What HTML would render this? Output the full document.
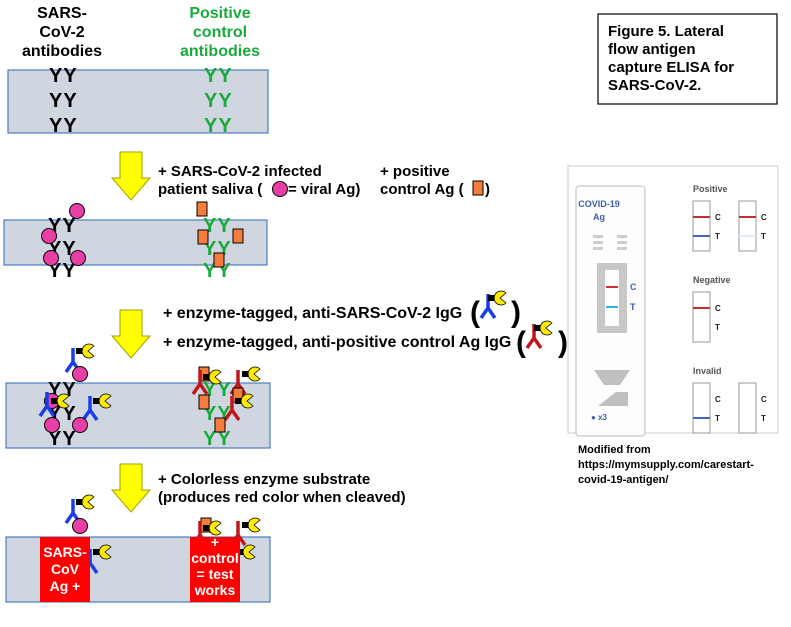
<!DOCTYPE html>
<html><head><meta charset="utf-8"><style>
body{margin:0;background:#fff;width:791px;height:627px;overflow:hidden}
svg{display:block}
text{font-family:"Liberation Sans",Arial,sans-serif;font-weight:bold}
.yy{letter-spacing:1px}
</style></head><body>
<svg width="791" height="627" viewBox="0 0 791 627" xmlns="http://www.w3.org/2000/svg">
<defs>
<g id="pk"><circle r="7.5" fill="#e83fa7" stroke="#000" stroke-width="1"/></g>
<g id="or"><rect x="-5" y="-7" width="10" height="14" fill="#f47c3c" stroke="#000" stroke-width="1"/></g>
<g id="enz"><rect x="-9" y="-3" width="10" height="6" fill="#000"/><path d="M12,-5 A7,7 0 1,0 12,5 L6,0 Z" transform="translate(-3,0)" fill="#ffeb00" stroke="#000" stroke-width="0.8"/></g>
<g id="bab"><path d="M0,-14 V0 M0,0 L-7,10 M0,0 L7,10" stroke="#1a3de8" stroke-width="3.5" fill="none"/></g>
<g id="rab"><path d="M0,-14 V0 M0,0 L-7,10 M0,0 L7,10" stroke="#c0171c" stroke-width="3.5" fill="none"/></g>
<g id="arr"><path d="M-11,0 H11 V26 H19 L0,48 L-19,26 H-11 Z" fill="#ffff00" stroke="#a0a000" stroke-width="1"/></g>
</defs>

<text x="62" y="18" font-size="16" text-anchor="middle">SARS-</text>
<text x="62" y="37" font-size="16" text-anchor="middle">CoV-2</text>
<text x="62" y="56" font-size="16" text-anchor="middle">antibodies</text>
<text x="220" y="18" font-size="16" text-anchor="middle" fill="#1aaa3c">Positive</text>
<text x="220" y="37" font-size="16" text-anchor="middle" fill="#1aaa3c">control</text>
<text x="220" y="56" font-size="16" text-anchor="middle" fill="#1aaa3c">antibodies</text>

<rect x="598" y="14" width="179" height="90" fill="#fff" stroke="#000" stroke-width="1.2"/>
<text x="608" y="36" font-size="15">Figure 5. Lateral</text>
<text x="608" y="54" font-size="15">flow antigen</text>
<text x="608" y="72" font-size="15">capture ELISA for</text>
<text x="608" y="90" font-size="15">SARS-CoV-2.</text>

<rect x="8" y="70" width="260" height="63" fill="#cfd6e0" stroke="#4a7bc0" stroke-width="1.2"/>
<g font-size="20" fill="#000" class="yy"><text x="49" y="82">YY</text><text x="49" y="107">YY</text><text x="49" y="132">YY</text></g>
<g font-size="20" fill="#1aaa3c" class="yy"><text x="204" y="82">YY</text><text x="204" y="107">YY</text><text x="204" y="132">YY</text></g>

<use href="#arr" x="131" y="152"/>
<text x="158" y="176" font-size="15">+ SARS-CoV-2 infected</text>
<text x="158" y="194" font-size="15">patient saliva (</text>
<use href="#pk" x="280" y="189"/>
<text x="288" y="194" font-size="15">= viral Ag)</text>
<text x="380" y="176" font-size="15">+ positive</text>
<text x="380" y="194" font-size="15">control Ag (</text>
<use href="#or" x="478" y="188"/>
<text x="485" y="194" font-size="15">)</text>

<rect x="4" y="220" width="263" height="45" fill="#cfd6e0" stroke="#4a7bc0" stroke-width="1.2"/>
<g font-size="20" fill="#000" class="yy"><text x="48" y="232">YY</text><text x="48" y="255">YY</text><text x="48" y="277">YY</text></g>
<g font-size="20" fill="#1aaa3c" class="yy"><text x="203" y="232">YY</text><text x="203" y="255">YY</text><text x="203" y="277">YY</text></g>
<use href="#pk" x="77" y="211"/><use href="#pk" x="49" y="236"/><use href="#pk" x="51" y="258"/><use href="#pk" x="78" y="258"/>
<use href="#or" x="202" y="209"/><use href="#or" x="203" y="237"/><use href="#or" x="238" y="236"/><use href="#or" x="219" y="260"/>

<use href="#arr" x="131" y="310"/>
<text x="163" y="318" font-size="16">+ enzyme-tagged, anti-SARS-CoV-2 IgG</text>
<text x="470" y="322" font-size="30" font-weight="normal">(</text>
<use href="#bab" x="488" y="308"/><use href="#enz" x="497" y="298"/>
<text x="511" y="322" font-size="30" font-weight="normal">)</text>
<text x="163" y="347" font-size="16">+ enzyme-tagged, anti-positive control Ag IgG</text>
<text x="516" y="352" font-size="30" font-weight="normal">(</text>
<use href="#rab" x="534" y="338"/><use href="#enz" x="543" y="328"/>
<text x="558" y="352" font-size="30" font-weight="normal">)</text>

<rect x="6" y="383" width="264" height="65" fill="#cfd6e0" stroke="#4a7bc0" stroke-width="1.2"/>
<g font-size="20" fill="#000" class="yy"><text x="48" y="396">YY</text><text x="48" y="420">YY</text><text x="48" y="445">YY</text></g>
<g font-size="20" fill="#1aaa3c" class="yy"><text x="203" y="396">YY</text><text x="203" y="420">YY</text><text x="203" y="445">YY</text></g>
<use href="#bab" x="73" y="362"/><use href="#enz" x="85" y="351"/>
<use href="#pk" x="80" y="374"/>
<use href="#pk" x="52" y="401"/><use href="#bab" x="47" y="406"/><use href="#enz" x="60" y="401"/>
<use href="#bab" x="90" y="410"/><use href="#enz" x="102" y="401"/>
<use href="#pk" x="52" y="425"/><use href="#pk" x="80" y="425"/>
<use href="#or" x="204" y="374"/><use href="#rab" x="200" y="384"/><use href="#enz" x="212" y="377"/>
<use href="#rab" x="238" y="384"/><use href="#enz" x="251" y="374"/>
<use href="#or" x="238" y="395"/><use href="#rab" x="232" y="410"/><use href="#enz" x="244" y="401"/>
<use href="#or" x="204" y="402"/>
<use href="#or" x="220" y="425"/>

<use href="#arr" x="131" y="464"/>
<text x="158" y="484" font-size="15">+ Colorless enzyme substrate</text>
<text x="158" y="502" font-size="15">(produces red color when cleaved)</text>

<rect x="6" y="537" width="264" height="65" fill="#cfd6e0" stroke="#4a7bc0" stroke-width="1.2"/>
<use href="#bab" x="73" y="513"/><use href="#enz" x="85" y="502"/>
<use href="#pk" x="80" y="526"/>
<use href="#bab" x="90" y="563"/><use href="#enz" x="102" y="552"/>
<use href="#or" x="206" y="525"/><use href="#rab" x="200" y="535"/><use href="#enz" x="212" y="528"/>
<use href="#rab" x="238" y="535"/><use href="#enz" x="251" y="525"/><use href="#enz" x="246" y="552"/>
<rect x="40" y="537" width="50" height="65" fill="#ff0000"/>
<rect x="190" y="537" width="50" height="65" fill="#ff0000"/>
<g fill="#fff" font-size="14" text-anchor="middle">
<text x="65" y="557">SARS-</text><text x="65" y="574">CoV</text><text x="65" y="591">Ag +</text>
<text x="215" y="547">+</text><text x="215" y="563">control</text><text x="215" y="579">= test</text><text x="215" y="595">works</text>
</g>

<rect x="568" y="166" width="210" height="267" fill="#fff" stroke="#ccc" stroke-width="1"/>
<rect x="576" y="186" width="69" height="250" rx="3" fill="#fdfdfd" stroke="#bbb" stroke-width="1"/>
<text x="599" y="207" font-size="9" fill="#3a5fb0" text-anchor="middle">COVID-19</text>
<text x="599" y="220" font-size="9" fill="#3a5fb0" text-anchor="middle">Ag</text>
<g fill="#ccc"><rect x="593" y="235" width="10" height="3"/><rect x="617" y="235" width="10" height="3"/><rect x="593" y="241" width="10" height="3"/><rect x="617" y="241" width="10" height="3"/><rect x="593" y="247" width="10" height="3"/><rect x="617" y="247" width="10" height="3"/></g>
<rect x="597" y="263" width="30" height="70" fill="#c8c8c8"/>
<rect x="605" y="270" width="14" height="56" fill="#fff"/>
<rect x="606" y="286" width="12" height="2" fill="#d03030"/>
<rect x="606" y="306" width="12" height="2" fill="#30b0e0"/>
<text x="630" y="290" font-size="9" fill="#3a5fb0">C</text>
<text x="630" y="310" font-size="9" fill="#3a5fb0">T</text>
<path d="M594,370 H630 L620,385 H604 Z" fill="#c0c0c0"/>
<path d="M598,406 L616,392 H628 V406 Z" fill="#c0c0c0"/>
<text x="599" y="420" font-size="8" fill="#3a5fb0" font-weight="normal" text-anchor="middle">● x3</text>
<g font-size="9" fill="#555" font-weight="normal">
<text x="693" y="192">Positive</text><text x="693" y="283">Negative</text><text x="693" y="374">Invalid</text></g>
<g fill="#fff" stroke="#999" stroke-width="1">
<rect x="693" y="201" width="17" height="50"/><rect x="739" y="201" width="17" height="50"/>
<rect x="693" y="292" width="17" height="50"/>
<rect x="693" y="383" width="17" height="50"/><rect x="739" y="383" width="17" height="50"/></g>
<rect x="693" y="216" width="17" height="2" fill="#c03030"/><rect x="693" y="235" width="17" height="2" fill="#3a6ac8"/>
<rect x="739" y="216" width="17" height="2" fill="#c03030"/><rect x="739" y="235" width="17" height="2" fill="#e0eaf8"/>
<rect x="693" y="307" width="17" height="2" fill="#c03030"/>
<rect x="693" y="417" width="17" height="2" fill="#3a6ac8"/>
<g font-size="8" fill="#222">
<text x="715" y="220">C</text><text x="715" y="239">T</text><text x="761" y="220">C</text><text x="761" y="239">T</text>
<text x="715" y="311">C</text><text x="715" y="330">T</text>
<text x="715" y="402">C</text><text x="715" y="421">T</text><text x="761" y="402">C</text><text x="761" y="421">T</text></g>
<g font-size="11"><text x="578" y="453">Modified from</text><text x="578" y="468">https://mymsupply.com/carestart-</text><text x="578" y="483">covid-19-antigen/</text></g>
</svg>
</body></html>
